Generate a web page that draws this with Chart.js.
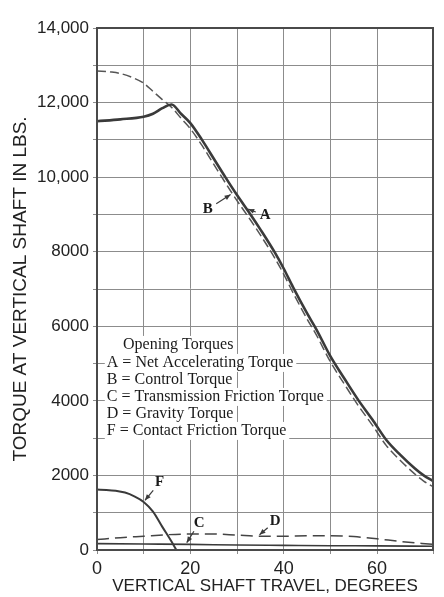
<!DOCTYPE html>
<html>
<head>
<meta charset="utf-8">
<title>Opening Torques</title>
<script src="https://cdn.jsdelivr.net/npm/chart.js@4.4.1/dist/chart.umd.min.js"></script>
<style>
  html, body { margin: 0; padding: 0; background: #fff; }
  #wrap { width: 444px; height: 597px; }
</style>
</head>
<body>
<div id="wrap"><canvas id="torqueChart" width="444" height="597"></canvas></div>
<script>
/* global Chart */

// opening torques vs vertical shaft travel
const travelA = [0, 5, 10, 12, 14, 16, 18, 20, 22.5, 25, 27.5, 30, 33, 35, 38, 40, 42, 45, 47, 50, 53, 56, 59, 62, 65, 68, 70, 72];
const netAccelerating = [11500, 11550, 11620, 11700, 11850, 11950, 11700, 11450, 11000, 10500, 10000, 9520, 8980, 8600, 8000, 7550, 7050, 6350, 5920, 5200, 4600, 4020, 3500, 2950, 2550, 2200, 2000, 1850];

const travelB = [0, 3, 5, 8, 10, 12, 14, 16, 18, 20, 22.5, 25, 27.5, 30, 33, 35, 38, 40, 42, 45, 47, 50, 53, 56, 59, 62, 65, 68, 70, 72];
const control = [12850, 12820, 12780, 12650, 12520, 12300, 12080, 11870, 11580, 11300, 10850, 10350, 9850, 9370, 8830, 8450, 7850, 7400, 6900, 6200, 5770, 5050, 4450, 3870, 3350, 2800, 2400, 2050, 1850, 1700];

const travelC = [0, 10, 20, 30, 40, 50, 60, 72];
const transmissionFriction = [170, 160, 150, 135, 125, 115, 110, 100];

const travelD = [0, 5, 10, 15, 20, 25, 30, 35, 40, 45, 50, 55, 60, 65, 72];
const gravity = [280, 330, 370, 410, 430, 430, 400, 370, 370, 380, 380, 360, 300, 230, 150];

const travelF = [0, 2, 4, 6, 8, 10, 12, 14, 16, 17];
const contactFriction = [1620, 1612, 1590, 1540, 1440, 1290, 1030, 620, 220, 0];

const xLabels = [0, 20, 40, 60];
const yLabels = [0, 2000, 4000, 6000, 8000, 10000, 12000, 14000];

const keyTitle = 'Opening Torques';
const keyLines = [
  'A = Net Accelerating Torque',
  'B = Control Torque',
  'C = Transmission Friction Torque',
  'D = Gravity Torque',
  'F = Contact Friction Torque'
];

const ink = '#3a3a3a';

function pts(xs, ys) {
  return xs.map(function (x, i) { return { x: x, y: ys[i] }; });
}

// value of a curve at a given travel, for hanging the letter tags on it
function valueAt(xs, ys, t) {
  for (let i = 1; i < xs.length; i++) {
    if (t <= xs[i]) {
      const f = (t - xs[i - 1]) / (xs[i] - xs[i - 1]);
      return ys[i - 1] + f * (ys[i] - ys[i - 1]);
    }
  }
  return ys[ys.length - 1];
}

const tags = [
  { txt: 'A', xs: travelA, ys: netAccelerating, at: 32, dx: 16, dy: 6 },
  { txt: 'B', xs: travelB, ys: control, at: 29, dx: -22, dy: 14 },
  { txt: 'C', xs: travelC, ys: transmissionFriction, at: 19, dx: 12, dy: -19 },
  { txt: 'D', xs: travelD, ys: gravity, at: 34.5, dx: 15, dy: -13 },
  { txt: 'F', xs: travelF, ys: contactFriction, at: 10, dx: 14, dy: -17 }
];

const sheet = {
  id: 'sheet',
  beforeDraw(chart) {
    const ctx = chart.ctx;
    ctx.save();
    ctx.fillStyle = '#fff';
    ctx.fillRect(0, 0, chart.width, chart.height);
    ctx.restore();
  },
  afterDatasetsDraw(chart) {
    const ctx = chart.ctx;
    const a = chart.chartArea;
    const xs = chart.scales.x;
    const ys = chart.scales.y;
    ctx.save();

    // frame round the plot
    ctx.strokeStyle = '#4a4a4a';
    ctx.lineWidth = 2;
    ctx.strokeRect(a.left, a.top, a.right - a.left, a.bottom - a.top);

    // key block, grid blanked out behind it
    ctx.font = '16px "Liberation Serif"';
    ctx.textBaseline = 'middle';
    const top = ys.getPixelForValue(5500);
    const left = xs.getPixelForValue(2.1);
    const mid = xs.getPixelForValue(17.4);
    const tw = ctx.measureText(keyTitle).width;
    ctx.fillStyle = '#fff';
    ctx.fillRect(mid - tw / 2 - 3, top - 9, tw + 6, 18);
    keyLines.forEach(function (t, i) {
      ctx.fillRect(left - 2, top + 18 + i * 17 - 9, ctx.measureText(t).width + 5, 18);
    });
    ctx.fillStyle = '#1a1a1a';
    ctx.textAlign = 'center';
    ctx.fillText(keyTitle, mid, top);
    ctx.textAlign = 'left';
    keyLines.forEach(function (t, i) {
      ctx.fillText(t, left, top + 18 + i * 17);
    });

    // letter tags with little arrows
    ctx.strokeStyle = ink;
    ctx.lineWidth = 1.2;
    ctx.font = 'bold 15px "Liberation Serif"';
    ctx.textAlign = 'center';
    tags.forEach(function (g) {
      const px = xs.getPixelForValue(g.at);
      const py = ys.getPixelForValue(valueAt(g.xs, g.ys, g.at));
      const len = Math.hypot(g.dx, g.dy);
      const ux = g.dx / len, uy = g.dy / len;
      const tx = px + ux * (len - 7), ty = py + uy * (len - 7);
      ctx.beginPath();
      ctx.moveTo(tx, ty);
      ctx.lineTo(px + ux * 2, py + uy * 2);
      ctx.stroke();
      // arrow head
      const hx = px + ux * 2, hy = py + uy * 2;
      ctx.beginPath();
      ctx.moveTo(hx, hy);
      ctx.lineTo(hx + ux * 6 - uy * 2.5, hy + uy * 6 + ux * 2.5);
      ctx.lineTo(hx + ux * 6 + uy * 2.5, hy + uy * 6 - ux * 2.5);
      ctx.closePath();
      ctx.fillStyle = ink;
      ctx.fill();
      ctx.fillStyle = '#1a1a1a';
      ctx.fillText(g.txt, px + g.dx + ux * 3, py + g.dy + uy * 3);
    });
    ctx.restore();
  }
};

const ctx = document.getElementById('torqueChart').getContext('2d');
const torqueChart = new Chart(ctx, {
  type: 'line',
  data: {
    datasets: [
      { label: 'A', data: pts(travelA, netAccelerating), borderColor: ink, borderWidth: 2.6 },
      { label: 'B', data: pts(travelB, control), borderColor: '#555', borderWidth: 1.5, borderDash: [9, 4] },
      { label: 'C', data: pts(travelC, transmissionFriction), borderColor: ink, borderWidth: 1.6 },
      { label: 'D', data: pts(travelD, gravity), borderColor: '#444', borderWidth: 1.5, borderDash: [12, 6] },
      { label: 'F', data: pts(travelF, contactFriction), borderColor: ink, borderWidth: 2 }
    ]
  },
  options: {
    responsive: false,
    animation: false,
    layout: { padding: { top: 28, right: 11, left: 0, bottom: 0 } },
    elements: {
      point: { radius: 0 },
      line: { cubicInterpolationMode: 'monotone', fill: false }
    },
    plugins: {
      legend: { display: false },
      tooltip: { enabled: false }
    },
    scales: {
      x: {
        type: 'linear',
        min: 0,
        max: 72,
        afterFit: function (s) { s.height = 47; },
        ticks: {
          stepSize: 10,
          autoSkip: false,
          maxRotation: 0,
          padding: 4,
          color: '#222',
          font: { family: 'Liberation Sans', size: 18 },
          callback: function (v) { return xLabels.indexOf(v) >= 0 ? String(v) : ''; }
        },
        grid: { color: '#8c8c8c', lineWidth: 1, tickLength: 4 },
        border: { color: '#4a4a4a', width: 2 },
        title: {
          display: true,
          text: 'VERTICAL SHAFT TRAVEL, DEGREES',
          color: '#222',
          font: { family: 'Liberation Sans', size: 17 },
          padding: { top: 0, bottom: 0 }
        }
      },
      y: {
        min: 0,
        max: 14000,
        afterFit: function (s) { s.width = 97; },
        ticks: {
          stepSize: 1000,
          autoSkip: false,
          padding: 4,
          color: '#222',
          font: { family: 'Liberation Sans', size: 17 },
          callback: function (v) {
            if (yLabels.indexOf(v) < 0) return '';
            return v >= 10000 ? v.toLocaleString('en-US') : String(v);
          }
        },
        grid: { color: '#8c8c8c', lineWidth: 1, tickLength: 4 },
        border: { color: '#4a4a4a', width: 2 },
        title: {
          display: true,
          text: 'TORQUE AT VERTICAL SHAFT IN LBS.',
          color: '#222',
          font: { family: 'Liberation Sans', size: 19 },
          padding: { top: 9, bottom: 0 }
        }
      }
    }
  },
  plugins: [sheet]
});
</script>
</body>
</html>
